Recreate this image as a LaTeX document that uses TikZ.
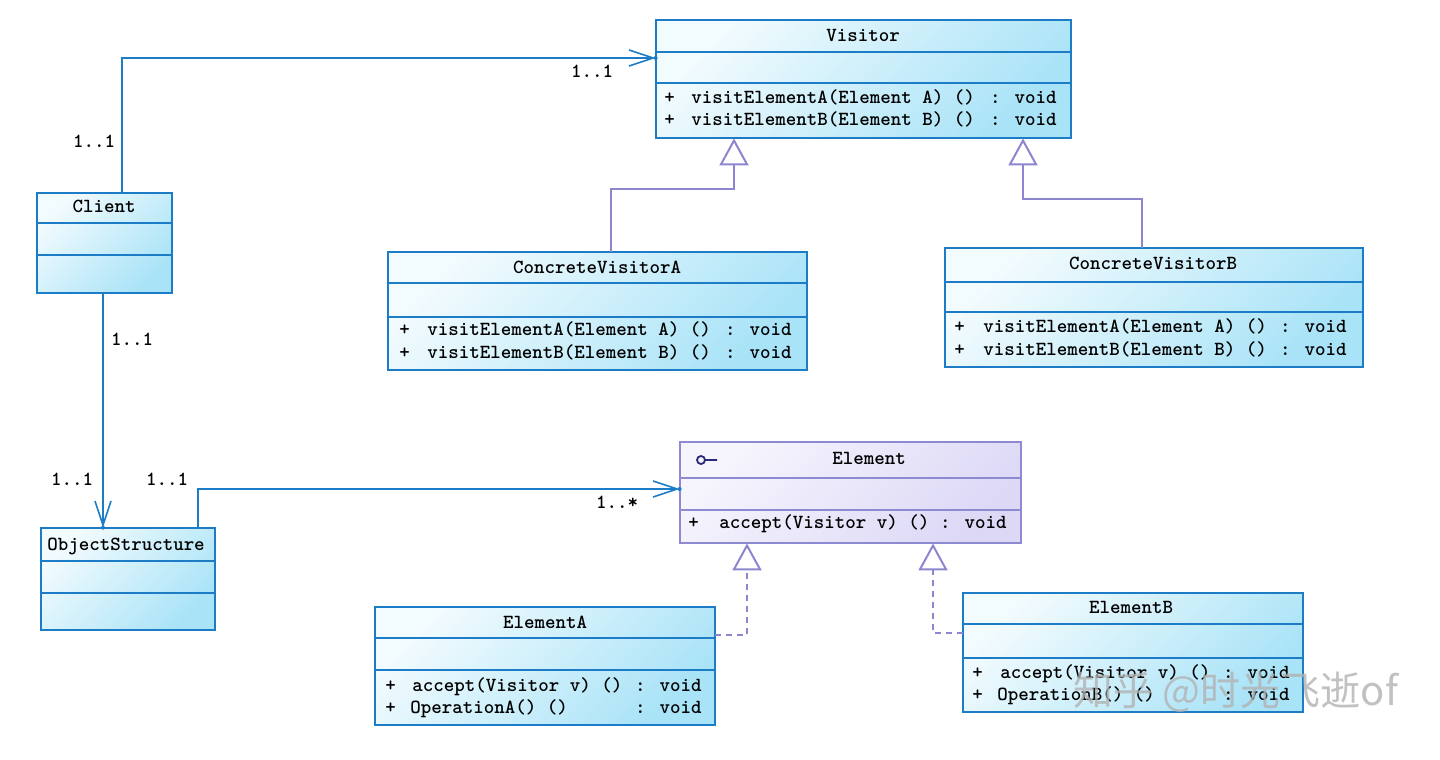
\documentclass[tikz,border=0pt]{standalone}
\usepackage{fontspec}
\newfontfamily\cjkfont{Noto Sans CJK SC}
\usetikzlibrary{arrows.meta,fit}

\definecolor{umlblue}{HTML}{1C7CC6}
\definecolor{umlpurple}{HTML}{8C86CE}
\definecolor{fillA}{HTML}{F2FBFE}
\definecolor{fillB}{HTML}{A9E3F7}
\definecolor{lavA}{HTML}{F6F5FD}
\definecolor{lavB}{HTML}{DCD8F6}
\definecolor{lavline}{HTML}{8E8AD2}
\definecolor{navy}{HTML}{2A2A78}

\tikzset{
  every node/.style={font=\ttfamily\bfseries\fontsize{10}{12}\selectfont, inner sep=0pt,
    text height=6.5pt, text depth=1.5pt},
  classfill/.style={draw=umlblue, line width=1pt, left color=fillA, right color=fillB, shading angle=45},
  classfill rule/.style={draw=umlblue, line width=1pt},
  ifacefill/.style={draw=lavline, line width=1pt, left color=lavA, right color=lavB, shading angle=45},
  ifacefill rule/.style={draw=lavline, line width=1pt},
  assoc/.style={draw=umlblue, line width=1pt,
    -{Straight Barb[length=12pt,width=8pt,line width=0.8pt]}},
  gen/.style={draw=umlpurple, line width=1pt,
    -{Triangle[open,length=13.5pt,width=14.5pt,fill=white]}},
  real/.style={gen, dash pattern=on 3pt off 2.5pt},
  mult/.style={anchor=center},
}

% class box: name, style, x-left, x-right, y-top, y-rule1, y-rule2, y-bottom
\newcommand\umlclass[8]{%
  \path[#2] (#3,#5) rectangle (#4,#8);
  \draw[#2 rule] (#3,#6) -- (#4,#6) (#3,#7) -- (#4,#7);
  \node[fit={(#3,#5)(#4,#8)}, inner sep=0pt] (#1) {};
}

\begin{document}
\begin{tikzpicture}[x=0.5pt, y=-0.5pt]
\useasboundingbox[fill=white] (0,0) rectangle (1440,760);

% ---------- classes ----------
\umlclass{visitor}{classfill}{656}{1071}{20}{52}{83}{138}
\node (visitorName) at (863,36) {Visitor};
\node[anchor=west] (visitorP1) at (664,98) {+};
\node[anchor=west] (visitorOp1) at (691,98) {visitElementA(Element A) ()};
\node[anchor=east] (visitorT1) at (1057,98) {: void};
\node[anchor=west] (visitorP2) at (664,120) {+};
\node[anchor=west] (visitorOp2) at (691,120) {visitElementB(Element B) ()};
\node[anchor=east] (visitorT2) at (1057,120) {: void};

\umlclass{client}{classfill}{37}{172}{193}{223}{255}{293}
\node (clientName) at (104,207) {Client};

\umlclass{cva}{classfill}{388}{807}{252}{283}{317}{370}
\node (cvaName) at (597,268) {ConcreteVisitorA};
\node[anchor=west] (cvaP1) at (399,330) {+};
\node[anchor=west] (cvaOp1) at (427,330) {visitElementA(Element A) ()};
\node[anchor=east] (cvaT1) at (792,330) {: void};
\node[anchor=west] (cvaP2) at (399,353) {+};
\node[anchor=west] (cvaOp2) at (427,353) {visitElementB(Element B) ()};
\node[anchor=east] (cvaT2) at (792,353) {: void};

\umlclass{cvb}{classfill}{945}{1363}{248}{282}{312}{367}
\node (cvbName) at (1153,264) {ConcreteVisitorB};
\node[anchor=west] (cvbP1) at (954,327) {+};
\node[anchor=west] (cvbOp1) at (983,327) {visitElementA(Element A) ()};
\node[anchor=east] (cvbT1) at (1347,327) {: void};
\node[anchor=west] (cvbP2) at (954,350) {+};
\node[anchor=west] (cvbOp2) at (983,350) {visitElementB(Element B) ()};
\node[anchor=east] (cvbT2) at (1347,350) {: void};

\umlclass{element}{ifacefill}{680}{1021}{442}{478}{510}{543}
\node (elementName) at (869,459) {Element};
\draw[navy, line width=0.9pt] (701,460) circle (4) (705,460) -- (717,460);
\node[anchor=west] (elementP1) at (688,523) {+};
\node[anchor=west] (elementOp1) at (719,523) {accept(Visitor v) ()};
\node[anchor=east] (elementT1) at (1007,523) {: void};

\umlclass{objs}{classfill}{41}{215}{528}{561}{593}{630}
\node (objsName) at (126,545) {ObjectStructure};

\umlclass{elA}{classfill}{375}{715}{607}{638}{670}{725}
\node (elAName) at (545,623) {ElementA};
\node[anchor=west] (elAP1) at (385,686) {+};
\node[anchor=west] (elAOp1) at (412,686) {accept(Visitor v) ()};
\node[anchor=east] (elAT1) at (702,686) {: void};
\node[anchor=west] (elAP2) at (385,708) {+};
\node[anchor=west] (elAOp2) at (410,708) {OperationA() ()};
\node[anchor=east] (elAT2) at (702,708) {: void};

\umlclass{elB}{classfill}{963}{1303}{593}{624}{658}{712}
\node (elBName) at (1131,608) {ElementB};
\node[anchor=west] (elBP1) at (972,673) {+};
\node[anchor=west] (elBOp1) at (1000,673) {accept(Visitor v) ()};
\node[anchor=east] (elBT1) at (1290,673) {: void};
\node[anchor=west] (elBP2) at (972,695) {+};
\node[anchor=west] (elBOp2) at (997,695) {OperationB() ()};
\node[anchor=east] (elBT2) at (1290,695) {: void};

% ---------- bend points ----------
\coordinate (cv) at (122,58);
\coordinate (co) at (103,400);
\coordinate (oe) at (198,489);
\coordinate (ga1) at (611,189);
\coordinate (ga2) at (734,189);
\coordinate (gb1) at (1142,199);
\coordinate (gb2) at (1023,199);
\coordinate (ra) at (747,635);
\coordinate (rb) at (933,633);

% ---------- associations ----------
\draw[assoc] (client.north -| cv) -- (cv) -- (visitor.west |- cv);
\fill[umlblue] (visitor.west |- cv) circle (2);
\draw[assoc] (client.south -| co) -- (objs.north -| co);
\fill[umlblue] (objs.north -| co) circle (2);
\draw[assoc] (objs.north -| oe) -- (oe) -- (element.west |- oe);
\fill[umlblue] (element.west |- oe) circle (2);

% ---------- generalizations ----------
\draw[gen] (cva.north -| ga1) -- (ga1) -- (ga2) -- (visitor.south -| ga2);
\draw[gen] (cvb.north -| gb1) -- (gb1) -- (gb2) -- (visitor.south -| gb2);

% ---------- realizations ----------
\draw[real] (elA.east |- ra) -- (ra) -- (element.south -| ra);
\draw[real] (elB.west |- rb) -- (rb) -- (element.south -| rb);

% ---------- multiplicities ----------
\node[mult] (m1) at (592,72) {1..1};
\node[mult] (m2) at (94,142) {1..1};
\node[mult] (m3) at (132,340) {1..1};
\node[mult] (m4) at (72,480) {1..1};
\node[mult] (m5) at (167,480) {1..1};
\node[mult] (m6) at (617,503) {1..*};

% ---------- watermark ----------
\node[font=\cjkfont\fontsize{20}{23}\selectfont, text=gray!60, opacity=0.8,
  text height=14pt, text depth=3pt] (wm) at (1236,694) {知乎 @时光飞逝of};
\end{tikzpicture}
\end{document}
